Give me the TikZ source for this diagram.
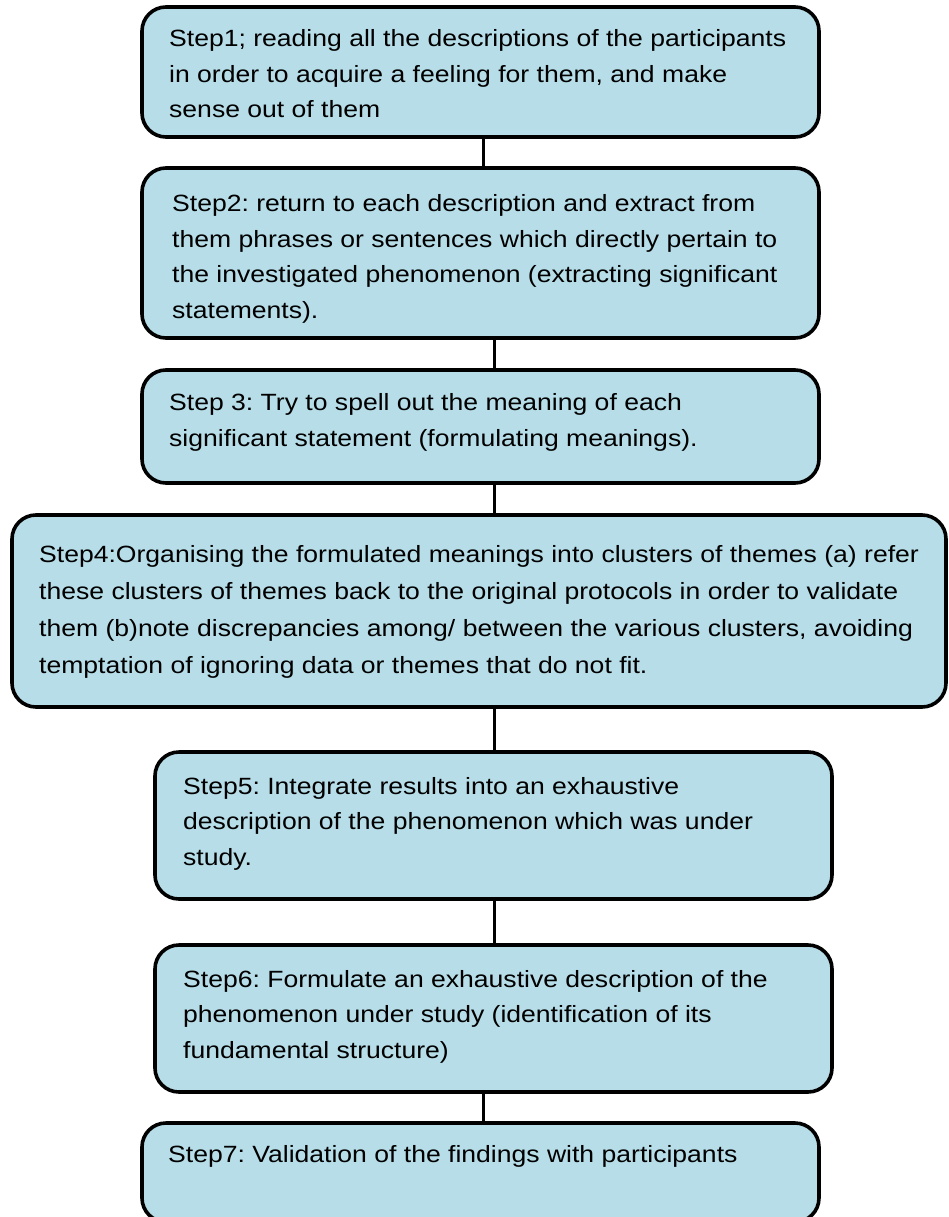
\documentclass[tikz,border=0pt]{standalone}
\usepackage{fontspec}
\setmainfont[FakeStretch=1.13]{Liberation Sans}
\frenchspacing
\definecolor{boxfill}{HTML}{B6DDE8}
\begin{document}
\begin{tikzpicture}[x=1pt,y=-1pt,
  stepbox/.style={draw=black, fill=boxfill, line width=3.6pt, rounded corners=24pt, inner sep=0pt, outer sep=0pt},
  txt/.style={anchor=base west, align=left, inner sep=0pt, font=\fontsize{23.5}{35.5}\selectfont\frenchspacing, text=black},
  link/.style={draw=black, line width=3pt}]
\clip (0,0) rectangle (948,1217);
\node[stepbox, minimum width=677pt, minimum height=130pt] (b1) at (480.5,72) {};
\node[stepbox, minimum width=677pt, minimum height=170pt] (b2) at (480.5,253) {};
\node[stepbox, minimum width=677pt, minimum height=113pt] (b3) at (480.5,426.5) {};
\node[stepbox, minimum width=934pt, minimum height=192pt] (b4) at (479,611) {};
\node[stepbox, minimum width=677pt, minimum height=147pt] (b5) at (493.5,825.5) {};
\node[stepbox, minimum width=677pt, minimum height=147pt] (b6) at (493.5,1018.5) {};
\node[stepbox, minimum width=677pt, minimum height=99pt] (b7) at (480.5,1172.5) {};

\node[txt] (t1) at (169,118) {Step1; reading all the descriptions of the participants\\in order to acquire a feeling for them, and make\\sense out of them};
\node[txt] (t2) at (172,318) {Step2: return to each description and extract from\\them phrases or sentences which directly pertain to\\the investigated phenomenon (extracting significant\\statements).};
\node[txt] (t3) at (169,446) {Step 3: Try to spell out the meaning of each\\significant statement (formulating meanings).};
\node[txt, font=\fontsize{23.5}{36.7}\selectfont\frenchspacing] (t4) at (39,673) {Step4:Organising the formulated meanings into clusters of themes (a) refer\\these clusters of themes back to the original protocols in order to validate\\them (b)note discrepancies among/ between the various clusters, avoiding\\temptation of ignoring data or themes that do not fit.};
\node[txt] (t5) at (183,865) {Step5: Integrate results into an exhaustive\\description of the phenomenon which was under\\study.};
\node[txt] (t6) at (183,1058) {Step6: Formulate an exhaustive description of the\\phenomenon under study (identification of its\\fundamental structure)};
\node[txt] (t7) at (168,1162) {Step7: Validation of the findings with participants};

\draw[link] (b1.south -| 483,0) -- (b2.north -| 483,0);
\draw[link] (b2.south -| 494,0) -- (b3.north -| 494,0);
\draw[link] (b3.south -| 494,0) -- (b4.north -| 494,0);
\draw[link] (b4.south -| 494,0) -- (b5.north -| 494,0);
\draw[link] (b5.south -| 494,0) -- (b6.north -| 494,0);
\draw[link] (b6.south -| 483,0) -- (b7.north -| 483,0);
\end{tikzpicture}
\end{document}
